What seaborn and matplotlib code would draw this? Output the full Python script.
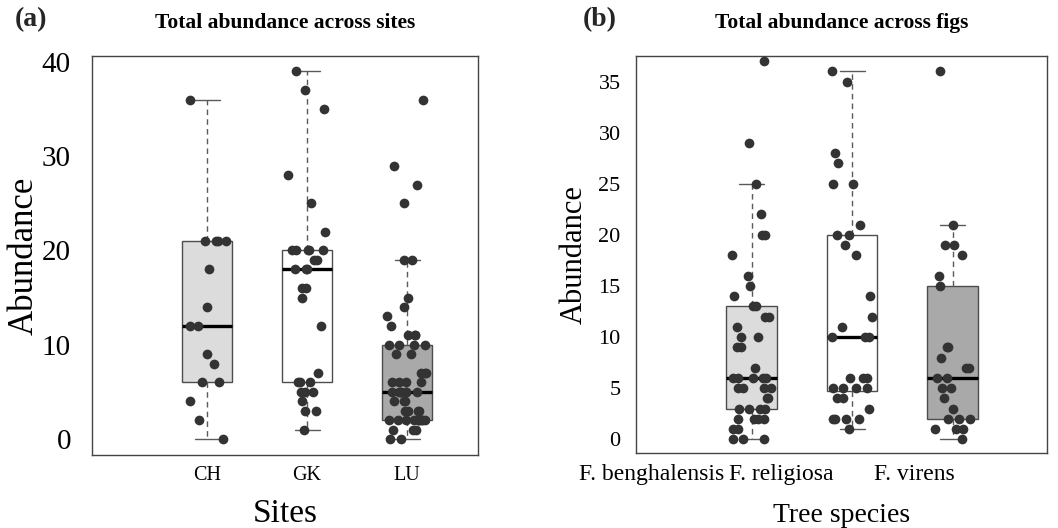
import numpy as np
import pandas as pd
import seaborn as sns
import matplotlib.pyplot as plt

# abundance values, one list per group
sites = ["CH", "GK", "LU"]
ch_abund = [36, 21, 21, 21, 21, 18, 14, 12, 12, 9, 8, 6, 6, 4, 2, 0]
gk_abund = [39, 37, 35, 28, 25, 22, 20, 20, 20, 20, 20, 19, 19, 18, 18, 18,
            16, 16, 15, 12, 7, 6, 6, 6, 5, 5, 5, 4, 3, 3, 1]
lu_abund = [36, 29, 27, 25, 19, 19, 15, 14, 13, 12, 11, 11, 11, 10, 10, 10, 10,
            9, 9, 7, 7, 7, 6, 6, 6, 6, 5, 5, 5, 5, 5, 5, 5, 4, 4, 4, 3, 3, 3, 3,
            2, 2, 2, 2, 2, 2, 2, 2, 2, 2, 1, 1, 1, 0, 0]

figs = ["F. benghalensis", "F. religiosa", "F. virens"]
fb_abund = [37, 29, 25, 22, 20, 20, 18, 16, 15, 14, 13, 13, 12, 12, 11, 10, 10,
            9, 9, 7, 6, 6, 6, 6, 6, 5, 5, 5, 5, 4, 4, 3, 3, 3, 3, 2, 2, 2, 2,
            1, 1, 0, 0, 0]
fr_abund = [36, 35, 28, 27, 25, 25, 21, 20, 20, 19, 18, 14, 12, 11, 10, 10, 10,
            6, 6, 6, 5, 5, 5, 5, 4, 4, 3, 2, 2, 2, 2, 1]
fv_abund = [36, 21, 19, 19, 18, 16, 15, 9, 9, 8, 7, 7, 6, 6, 5, 5, 4, 3,
            2, 2, 2, 1, 1, 1, 0]

# the species names in the reference sit left of their boxes
fig_label_pos = [-1.0, 0.3, 1.62]

fills = ["#dcdcdc", "#ffffff", "#a9a9a9"]


def _to_long(groups, values, col):
    rows = []
    for g, vals in zip(groups, values):
        rows += [(g, v) for v in vals]
    return pd.DataFrame(rows, columns=[col, "abundance"])


def _panel(ax, df, col, order, yticks, ylim, xlim, title, xlabel, fs):
    # fs = (ytick, xtick, ylabel, xlabel, ylabelpad, xlabelpad, ytickpad)
    sns.boxplot(
        data=df, x=col, y="abundance", hue=col, order=order, hue_order=order,
        palette=dict(zip(order, fills)), width=0.5, showfliers=False,
        linecolor="#4d4d4d", linewidth=1.0, legend=False,
        whiskerprops={"linestyle": (0, (4, 3)), "color": "#5a5a5a"},
        capprops={"color": "#5a5a5a"},
        medianprops={"color": "black", "linewidth": 2.4},
        ax=ax,
    )
    sns.stripplot(
        data=df, x=col, y="abundance", order=order, color="#333333",
        size=7, jitter=0.2, ax=ax, zorder=3,
    )
    ax.set_xlim(*xlim)
    ax.set_ylim(*ylim)
    ax.set_yticks(yticks)
    ax.tick_params(axis="y", labelsize=fs[0], length=6, pad=fs[6],
                   color="#555555", labelcolor="black")
    ax.tick_params(axis="x", labelsize=fs[1], length=0, pad=8,
                   labelcolor="black")
    for s in ax.spines.values():
        s.set_color("#444444")
        s.set_linewidth(1.0)
    ax.set_title(title, fontsize=15.5, fontweight="bold", pad=20, color="black")
    ax.set_xlabel(xlabel, fontsize=fs[3], labelpad=fs[5], color="black")
    ax.set_ylabel("Abundance", fontsize=fs[2], labelpad=fs[4], color="black")


def main():
    np.random.seed(7)
    sns.set_style("white")
    plt.rcParams["font.family"] = ["Liberation Serif", "DejaVu Serif"]

    site_df = _to_long(sites, [ch_abund, gk_abund, lu_abund], "site")
    fig_df = _to_long(figs, [fb_abund, fr_abund, fv_abund], "tree")

    fig = plt.figure(figsize=(10.58, 5.28), dpi=100)
    ax_a = fig.add_axes([0.0867, 0.1383, 0.3651, 0.7557])
    ax_b = fig.add_axes([0.6011, 0.1426, 0.3885, 0.7513])

    _panel(ax_a, site_df, "site", sites, [0, 10, 20, 30, 40], (-1.7, 40.64),
           (-1.153, 2.71), "Total abundance across sites", "Sites",
           (21, 14.5, 25, 24, 1, 10, 9))
    _panel(ax_b, fig_df, "tree", figs, [0, 5, 10, 15, 20, 25, 30, 35],
           (-1.31, 37.5), (-1.151, 2.94), "Total abundance across figs",
           "Tree species", (16, 17, 22, 20, 7, 13, 5))
    ax_b.set_xticks(fig_label_pos, figs)

    fig.text(0.014, 0.962, "(a)", fontsize=20, fontweight="bold", va="center")
    fig.text(0.551, 0.962, "(b)", fontsize=20, fontweight="bold", va="center")

    fig.savefig("out.png", dpi=100)
    plt.close(fig)


if __name__ == "__main__":
    main()
